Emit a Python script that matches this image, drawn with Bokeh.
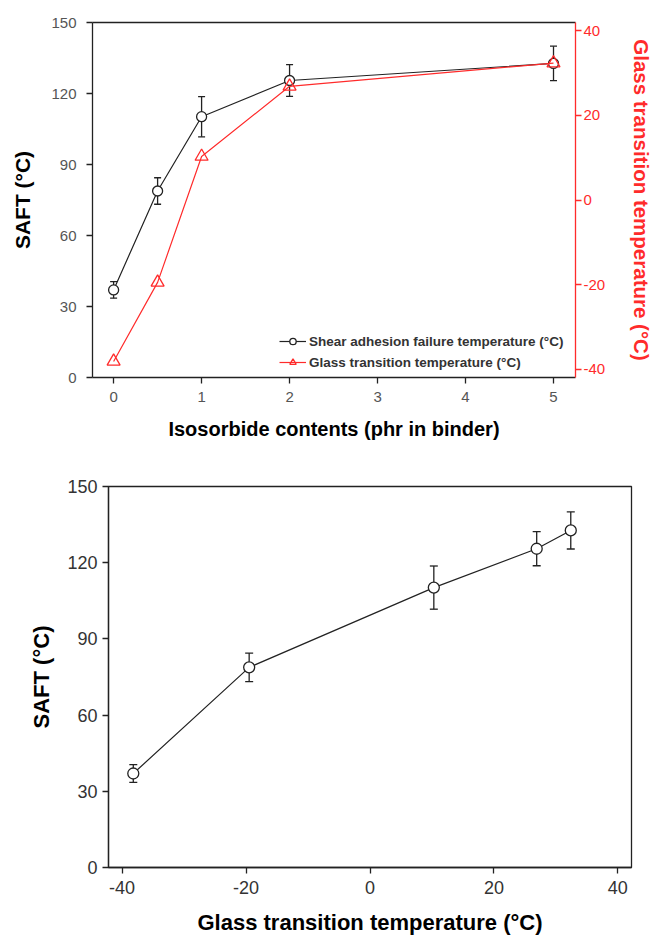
from bokeh.plotting import figure
from bokeh.models import (Range1d, LinearAxis, Whisker, ColumnDataSource, Legend,
                          LegendItem, FixedTicker, TeeHead, Spacer)
from bokeh.layouts import column, row
from bokeh.embed import file_html
from bokeh.resources import INLINE

# ---------------- data ----------------
isosorbide_phr = [0, 0.5, 1, 2, 5]
saft_c = [37.0, 78.8, 110.2, 125.5, 132.7]
saft_err = [3.5, 5.6, 8.5, 6.7, 7.3]
tg_c = [-38.2, -19.5, 10.3, 26.9, 32.4]

x_ticks_top = [0, 1, 2, 3, 4, 5]
saft_ticks = [0, 30, 60, 90, 120, 150]
tg_ticks = [-40, -20, 0, 20, 40]
tg_tick_labels = {-40: "-40", -20: "-20", 0: "0", 20: "20", 40: "40"}

RED = "#FF2B2B"
INK = "#222222"
FONT = "Liberation Sans"

saft_upper = [v + e for v, e in zip(saft_c, saft_err)]
saft_lower = [v - e for v, e in zip(saft_c, saft_err)]

src_top = ColumnDataSource(dict(x=isosorbide_phr, saft=saft_c, tg=tg_c,
                                upper=saft_upper, lower=saft_lower))
src_bot = ColumnDataSource(dict(x=tg_c, saft=saft_c,
                                upper=saft_upper, lower=saft_lower))


def style_axis(ax, color, label_size, label_color, title_size, standoff, title_standoff,
               title_color="black"):
    ax.axis_line_color = color
    ax.axis_line_width = 1.3
    ax.major_tick_line_color = color
    ax.major_tick_line_width = 1.3
    ax.major_tick_out = 6
    ax.major_tick_in = 0
    ax.minor_tick_line_color = None
    ax.major_label_text_font = FONT
    ax.major_label_text_font_size = label_size
    ax.major_label_text_color = label_color
    ax.major_label_standoff = standoff
    ax.axis_label_text_font = FONT
    ax.axis_label_text_font_style = "bold"
    ax.axis_label_text_font_size = title_size
    ax.axis_label_standoff = title_standoff
    ax.axis_label_text_color = title_color


# ---------------- top chart ----------------
p1 = figure(frame_width=483, frame_height=355,
            min_border_left=92, min_border_right=78, min_border_top=22, min_border_bottom=78,
            x_range=Range1d(-0.24, 5.25), y_range=Range1d(0, 150),
            output_backend="svg", toolbar_location=None)
p1.grid.visible = False
p1.outline_line_color = None

p1.xaxis.ticker = FixedTicker(ticks=x_ticks_top)
p1.yaxis.ticker = FixedTicker(ticks=saft_ticks)
p1.xaxis.axis_label = "Isosorbide contents (phr in binder)"
p1.yaxis.axis_label = "SAFT (°C)"
style_axis(p1.xaxis[0], INK, "15px", "#555555", "20px", 8, 13)
style_axis(p1.yaxis[0], INK, "15px", "#555555", "21px", 10, 14)

top_edge = LinearAxis(ticker=FixedTicker(ticks=[]), axis_line_color=INK, axis_line_width=1.3,
                      major_tick_line_color=None, minor_tick_line_color=None)
p1.add_layout(top_edge, "above")

p1.extra_y_ranges = {"tg": Range1d(-42, 42)}
right_ax = LinearAxis(y_range_name="tg", ticker=FixedTicker(ticks=tg_ticks),
                      major_label_overrides=tg_tick_labels,
                      axis_label="Glass transition temperature (°C)")
style_axis(right_ax, RED, "15px", RED, "20.5px", 2, 22, title_color=RED)
p1.add_layout(right_ax, "right")

p1.add_layout(Whisker(source=src_top, base="x", upper="upper", lower="lower",
                      line_color=INK, line_width=1.3,
                      upper_head=TeeHead(size=7, line_color=INK, line_width=1.3),
                      lower_head=TeeHead(size=7, line_color=INK, line_width=1.3)))
l_saft = p1.line("x", "saft", source=src_top, line_color=INK, line_width=1.2)
s_saft = p1.scatter("x", "saft", source=src_top, marker="circle", size=10,
                    fill_color="white", line_color=INK, line_width=1.3)
l_tg = p1.line("x", "tg", source=src_top, y_range_name="tg", line_color=RED, line_width=1.2)
s_tg = p1.scatter("x", "tg", source=src_top, y_range_name="tg", marker="triangle", size=13,
                  fill_color="white", fill_alpha=0.0, line_color=RED, line_width=1.3)

legend = Legend(items=[
    LegendItem(label="Shear adhesion failure temperature (°C)", renderers=[l_saft, s_saft]),
    LegendItem(label="Glass transition temperature (°C)", renderers=[l_tg, s_tg]),
], location=(187, 7))
legend.label_text_font = FONT
legend.label_text_font_size = "13.5px"
legend.label_text_font_style = "bold"
legend.label_text_color = "#333333"
legend.glyph_width = 27
legend.glyph_height = 16
legend.label_height = 16
legend.label_standoff = 3
legend.spacing = 5
legend.padding = 0
legend.margin = 0
legend.background_fill_alpha = 0
legend.border_line_alpha = 0
p1.add_layout(legend, "center")

# ---------------- bottom chart ----------------
p2 = figure(frame_width=523, frame_height=381,
            min_border_left=92, min_border_right=15, min_border_top=31, min_border_bottom=68,
            x_range=Range1d(-42.2, 42.2), y_range=Range1d(0, 150),
            output_backend="svg", toolbar_location=None)
p2.grid.visible = False
p2.outline_line_color = INK
p2.outline_line_width = 1.3
p2.xaxis.ticker = FixedTicker(ticks=tg_ticks)
p2.xaxis.major_label_overrides = tg_tick_labels
p2.yaxis.ticker = FixedTicker(ticks=saft_ticks)
p2.xaxis.axis_label = "Glass transition temperature (°C)"
p2.yaxis.axis_label = "SAFT (°C)"
style_axis(p2.xaxis[0], INK, "18px", "#333333", "22px", 7, 13)
style_axis(p2.yaxis[0], INK, "18px", "#333333", "22px", 5, 10)

p2.add_layout(Whisker(source=src_bot, base="x", upper="upper", lower="lower",
                      line_color=INK, line_width=1.3,
                      upper_head=TeeHead(size=8, line_color=INK, line_width=1.3),
                      lower_head=TeeHead(size=8, line_color=INK, line_width=1.3)))
p2.line("x", "saft", source=src_bot, line_color=INK, line_width=1.2)
p2.scatter("x", "saft", source=src_bot, marker="circle", size=11,
           fill_color="white", line_color=INK, line_width=1.3)

layout = column(p1, row(Spacer(width=16, height=10), p2, spacing=0), spacing=0)
open("out.html", "w").write(file_html(layout, INLINE))
